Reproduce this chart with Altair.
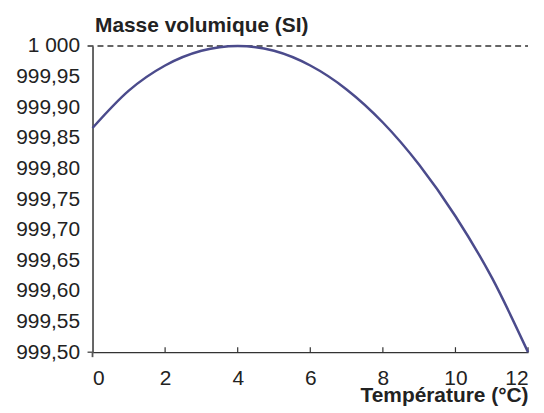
import altair as alt
import pandas as pd

# --- data ---
temps = [0, 1, 2, 3, 4, 5, 6, 7, 8, 9, 10, 11, 12]
density = [999.866, 999.927, 999.968, 999.992, 1000.0, 999.992, 999.968,
           999.929, 999.875, 999.806, 999.722, 999.622, 999.500]
y_ticks = [999.50, 999.55, 999.60, 999.65, 999.70, 999.75, 999.80,
           999.85, 999.90, 999.95, 1000.0]
x_ticks = [0, 2, 4, 6, 8, 10, 12]
x_inner_ticks = [2, 4, 6, 8, 10, 12]
ref_level = [1000.0]
bottom_level = [999.50]

W, H = 438, 308
FONT = "Liberation Sans"
FS = 21

df = pd.DataFrame({"t": temps, "rho": density})

xscale = alt.Scale(domain=[0, 12], nice=False, zero=False)
yscale = alt.Scale(domain=[999.5, 1000], nice=False, zero=False)

xaxis = alt.Axis(
    values=x_ticks, title="Température (°C)", tickSize=0, labelPadding=16,
    domainColor="#333333", domainWidth=1.2, grid=False,
    labelFont=FONT, labelFontSize=FS, labelColor="#222222",
    titleFont=FONT, titleFontSize=FS, titleFontWeight="bold", titleColor="#222222",
    titleAnchor="end", titleAlign="right", titleBaseline="alphabetic",
    titleX=W, titleY=50,
)
yaxis = alt.Axis(
    values=y_ticks, title="Masse volumique (SI)", tickSize=0, labelPadding=13,
    domainColor="#555555", domainWidth=1.8, grid=False,
    labelFont=FONT, labelFontSize=FS, labelColor="#222222",
    labelExpr="datum.value == 1000 ? '1 000' : replace(format(datum.value, '.2f'), '.', ',')",
    titleFont=FONT, titleFontSize=FS, titleFontWeight="bold", titleColor="#222222",
    titleAngle=0, titleAlign="left", titleBaseline="alphabetic",
    titleX=2, titleY=-15,
)

X = alt.X("t:Q", scale=xscale, axis=xaxis)
Y = alt.Y("rho:Q", scale=yscale, axis=yaxis)

dashed = alt.Chart(pd.DataFrame({"rho": ref_level})).mark_rule(
    strokeDash=[6, 4], color="#333333", strokeWidth=1.5
).encode(y=Y, x=alt.value(-5), x2=alt.value(W))

ytick = alt.Chart(pd.DataFrame({"rho": bottom_level})).mark_rule(
    color="#333333", strokeWidth=1.2
).encode(y=Y, x=alt.value(-5), x2=alt.value(0))

xticks_in = alt.Chart(pd.DataFrame({"t": x_inner_ticks})).mark_rule(
    color="#333333", strokeWidth=1.2
).encode(x=X, y=alt.value(H - 5), y2=alt.value(H))

xtick0 = alt.Chart(pd.DataFrame({"t": [0]})).mark_rule(
    color="#555555", strokeWidth=1.8
).encode(x=X, y=alt.value(H), y2=alt.value(H + 5))

line = alt.Chart(df).mark_line(
    color="#4b4b8c", strokeWidth=2.5, interpolate="monotone"
).encode(x=X, y=Y)

chart = alt.layer(dashed, ytick, xticks_in, xtick0, line).properties(
    width=W, height=H,
    autosize="none",
    padding={"left": 85, "top": 37, "right": 8, "bottom": 56},
).configure_view(stroke=None)

chart.save("out.html", embed_options={"renderer": "svg", "actions": False})
